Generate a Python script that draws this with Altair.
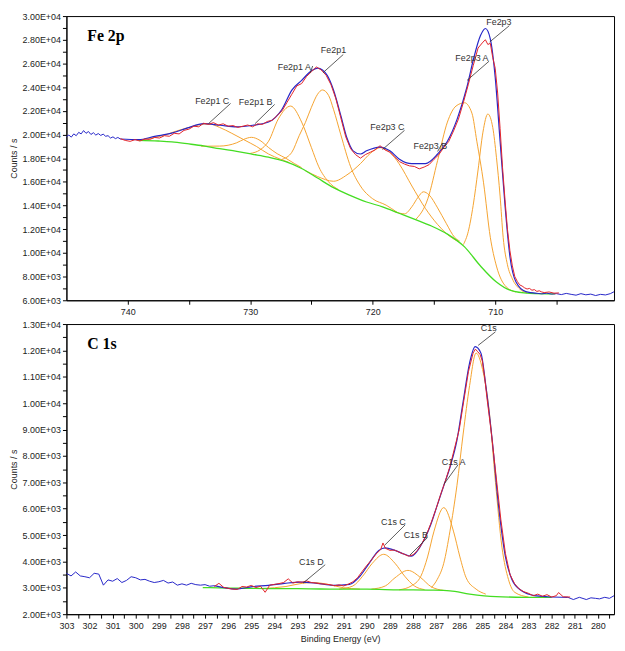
import altair as alt
import pandas as pd

# ---------------- Fe 2p panel data (binding energy eV, counts/s) ----------------
fe_raw_x = [745.0, 744.8, 744.6, 744.4, 744.2, 744.0, 743.8, 743.6, 743.4, 743.2, 743.0, 742.8,
            742.6, 742.4, 742.2, 742.0, 741.8, 741.6, 741.4, 741.2, 741.0, 740.8, 740.6]
fe_raw_y = [19830, 19950, 19780, 20050, 19900, 20180, 20050, 20330, 20100, 20250, 20000, 20150,
            19950, 20080, 19920, 20030, 19850, 19900, 19700, 19800, 19650, 19750, 19620]
fe_raw2_x = [706.6, 706.2, 705.8, 705.4, 705.0, 704.6, 704.2, 703.8, 703.4, 703.0, 702.6, 702.2,
             701.8, 701.4, 701.0, 700.6, 700.3]
fe_raw2_y = [6590, 6540, 6600, 6520, 6560, 6480, 6580, 6500, 6430, 6560, 6460, 6520,
             6400, 6500, 6450, 6560, 6720]

fe_env_x = [740.6, 739.1, 737.8, 736.4, 735.1, 733.8, 732.45, 731.1, 729.8, 728.5, 727.4, 726.6,
            725.8, 725.0, 724.5, 724.1, 723.7, 723.2, 722.6, 722.1, 721.6, 721.0, 720.5, 719.4,
            718.6, 717.85, 716.8, 715.7, 714.7, 713.9, 713.1, 712.3, 711.75, 711.2, 710.8, 710.4,
            710.0, 709.6, 709.2, 708.8, 708.3, 707.5, 706.6]
fe_env_y = [19620, 19570, 19840, 20110, 20560, 20920, 20780, 20650, 20780, 21050, 22130, 23750,
            24570, 25380, 25600, 25450, 24970, 23760, 21590, 19700, 18620, 18350, 18620, 18940,
            18620, 17940, 17540, 17540, 18350, 19430, 21320, 24030, 26460, 28350, 28950, 28080,
            24840, 19430, 14030, 9700, 7540, 6730, 6590]

fe_dat_x = [740.6, 740.2, 739.8, 739.4, 739.0, 738.6, 738.2, 737.8, 737.4, 737.0, 736.6, 736.2,
            735.8, 735.4, 735.0, 734.6, 734.2, 733.8, 733.4, 733.0, 732.6, 732.2, 731.8, 731.4,
            731.0, 730.6, 730.2, 729.8, 729.4, 729.0, 728.6, 728.2, 727.8, 727.4, 727.0, 726.6,
            726.2, 725.8, 725.4, 725.0, 724.6, 724.2, 723.8, 723.4, 723.0, 722.6, 722.2, 721.8,
            721.4, 721.0, 720.6, 720.2, 719.8, 719.4, 719.0, 718.6, 718.2, 717.8, 717.4, 717.0,
            716.6, 716.2, 715.8, 715.4, 715.0, 714.6, 714.2, 713.8, 713.4, 713.0, 712.6, 712.2,
            711.8, 711.4, 711.0, 710.8, 710.6, 710.4, 710.2, 710.0, 709.8, 709.6, 709.4, 709.2,
            709.0, 708.8, 708.6, 708.4, 708.2, 708.0, 707.8, 707.6, 707.4, 707.2, 707.0, 706.8,
            706.6, 706.4, 706.2, 706.0, 705.6, 705.2, 704.8]
fe_dat_y = [19650, 19500, 19420, 19560, 19450, 19620, 19580, 19750, 19700, 19900, 19850, 20100,
            20050, 20350, 20450, 20700, 20650, 20950, 20850, 21000, 20800, 20900, 20700, 20750,
            20600, 20700, 20800, 20650, 20900, 20850, 21100, 21200, 21600, 22000, 22700, 23400,
            24100, 24300, 24900, 25300, 25700, 25450, 25000, 24200, 23000, 21400, 19800, 18800,
            18300, 18000, 18300, 18500, 18700, 19050, 18700, 18500, 18100, 17700, 17500, 17350,
            17300, 17100, 17250, 17450, 17900, 18300, 18900, 19400, 20300, 21300, 22700, 24200,
            25800, 27300, 27800, 28000, 27600, 27700, 26500, 25600, 23500, 20500, 17200, 14500,
            12000, 10200, 8900, 8000, 7600, 7300, 7200, 7050, 6950, 7000, 6850, 6900,
            6750, 6800, 6700, 6650, 6700, 6600, 6620]

fe_bg_x = [739.1, 737.5, 736.4, 735.0, 733.8, 732.5, 731.1, 729.8, 728.5, 727.1, 725.8, 724.5,
           723.2, 721.8, 720.5, 719.2, 717.85, 716.5, 715.2, 713.9, 712.5, 711.2, 709.9, 708.8,
           707.2, 705.1]
fe_bg_y = [19510, 19450, 19380, 19200, 19030, 18800, 18570, 18330, 18080, 17700, 17130, 16320,
           15510, 14840, 14300, 13890, 13350, 12810, 12270, 11590, 10510, 8890, 7540, 6860,
           6590, 6540]

fe2p1c_x = [739.0, 738.0, 737.0, 736.0, 735.0, 734.0, 733.4, 732.5, 731.5, 730.5, 729.5, 728.5, 727.5, 726.8]
fe2p1c_y = [19520, 19700, 19950, 20300, 20600, 20850, 20900, 20600, 20100, 19550, 19000, 18350, 17900, 17620]
fe2p1b_x = [734.0, 732.5, 731.1, 730.5, 729.9, 729.2, 728.5, 727.8, 727.1, 726.4, 725.8]
fe2p1b_y = [19010, 19020, 19300, 19600, 19760, 19500, 18900, 18380, 18000, 17550, 17200]
fe2p1a_x = [730.0, 729.2, 728.5, 727.7, 726.7, 725.8, 725.0, 724.4, 723.6, 722.8]
fe2p1a_y = [18400, 18700, 19430, 21320, 22400, 21050, 18890, 17270, 16000, 15350]
fe2p1_x = [727.4, 726.6, 726.0, 725.5, 725.0, 724.5, 724.1, 723.6, 723.2, 722.6, 721.8, 721.0, 720.0, 718.9, 718.0]
fe2p1_y = [17900, 18500, 19900, 21000, 22300, 23400, 23760, 23300, 22130, 19970, 17270, 15650, 14570, 14030, 13420]
fe2p3c_x = [725.5, 724.5, 723.2, 722.1, 721.0, 720.2, 719.4, 718.6, 717.85, 716.8, 715.7, 714.7, 713.6, 713.0]
fe2p3c_y = [16950, 16450, 16050, 16590, 17540, 18400, 18890, 18500, 17540, 15650, 13760, 12400, 11320, 10950]
fe2p3b_x = [718.2, 717.4, 716.8, 716.3, 715.86, 715.4, 714.7, 714.0, 713.3, 712.9]
fe2p3b_y = [13480, 13300, 13900, 14700, 15160, 14900, 13800, 12500, 11300, 11000]
fe2p3a_x = [716.5, 715.5, 714.7, 713.9, 713.2, 712.5, 711.9, 711.5, 710.95, 710.4, 709.9, 709.1, 708.3]
fe2p3a_y = [12810, 14570, 17810, 21050, 22400, 22680, 21800, 19430, 15920, 11320, 8890, 7130, 6700]
fe2p3_x = [712.6, 712.2, 711.8, 711.4, 711.0, 710.6, 710.2, 709.9, 709.6, 709.35, 709.0, 708.6, 708.0, 707.4]
fe2p3_y = [10700, 11800, 14000, 17000, 20200, 21730, 20600, 18080, 14800, 11320, 9000, 7810, 6950, 6620]

fe_lab_text = ["Fe2p1 C", "Fe2p1 B", "Fe2p1 A", "Fe2p1", "Fe2p3 C", "Fe2p3 B", "Fe2p3 A", "Fe2p3"]
fe_lab_x = [733.1, 729.55, 726.4, 723.2, 718.8, 715.3, 711.9, 709.7]
fe_lab_y = [22784, 22702, 25702, 27162, 20594, 19054, 26432, 29513]
fe_lead_x1 = [731.6, 728.0, 724.9, 722.4, 717.4, 714.3, 710.5, 708.85]
fe_lead_y1 = [22621, 22540, 25784, 26756, 20351, 19297, 26189, 29189]
fe_lead_x2 = [733.4, 729.6, 725.1, 724.06, 719.2, 714.7, 712.3, 710.45]
fe_lead_y2 = [20919, 20919, 25216, 25216, 18730, 18568, 24567, 27811]

# ---------------- C 1s panel data ----------------
c_raw_x = [303.0, 302.8, 302.6, 302.4, 302.2, 302.0, 301.8, 301.6, 301.4, 301.2, 301.0, 300.8,
           300.6, 300.4, 300.2, 300.0, 299.8, 299.6, 299.4, 299.2, 299.0, 298.8, 298.6, 298.4,
           298.2, 298.0, 297.8, 297.6, 297.4, 297.2, 297.0, 296.8, 296.6]
c_raw_y = [3550, 3450, 3600, 3450, 3420, 3380, 3550, 3520, 3100, 3300, 3250, 3350,
           3200, 3280, 3420, 3380, 3300, 3320, 3250, 3200, 3230, 3280, 3180, 3220,
           3100, 3150, 3100, 3170, 3120, 3100, 3120, 3060, 3080]
c_raw2_x = [281.3, 281.06, 280.8, 280.5, 280.3, 280.1, 279.93, 279.7, 279.5, 279.3]
c_raw2_y = [2640, 2555, 2640, 2555, 2620, 2600, 2580, 2640, 2600, 2700]

c_env_x = [296.6, 295.66, 294.96, 294.26, 293.56, 292.85, 292.15, 291.45, 290.75, 290.3, 289.9, 289.48,
           289.2, 288.78, 288.36, 288.08, 287.66, 287.23, 286.95, 286.67, 286.39, 286.1, 285.83, 285.55,
           285.31, 285.06, 284.85, 284.57, 284.3, 284.0, 283.72, 283.3, 282.74, 282.18, 281.3]
c_env_y = [3080, 2950, 3045, 3094, 3168, 3217, 3168, 3094, 3131, 3438, 3928, 4418,
           4517, 4418, 4271, 4198, 4602, 5399, 6135, 6870, 7600, 8587, 10058, 11529,
           12142, 11897, 10671, 8587, 6135, 4173, 3315, 2886, 2702, 2660, 2640]

c_dat_x = [296.6, 296.4, 296.2, 296.0, 295.8, 295.6, 295.4, 295.2, 295.0, 294.8, 294.6, 294.4,
           294.2, 294.0, 293.8, 293.6, 293.4, 293.2, 293.0, 292.8, 292.6, 292.4, 292.2, 292.0,
           291.8, 291.6, 291.4, 291.2, 291.0, 290.8, 290.6, 290.4, 290.2, 290.0, 289.8, 289.6,
           289.4, 289.3, 289.2, 289.0, 288.8, 288.6, 288.4, 288.2, 288.0, 287.8, 287.6, 287.4,
           287.2, 287.0, 286.8, 286.6, 286.4, 286.2, 286.0, 285.8, 285.6, 285.4, 285.3, 285.2,
           285.1, 285.0, 284.9, 284.8, 284.6, 284.4, 284.2, 284.0, 283.8, 283.6, 283.4, 283.2,
           283.0, 282.8, 282.6, 282.4, 282.2, 282.0, 281.8, 281.7, 281.5, 281.2]
c_dat_y = [3050, 3170, 3020, 2980, 2950, 2940, 3050, 3030, 3090, 3010, 3060, 2830,
           3100, 3130, 3160, 3200, 3340, 3180, 3230, 3210, 3260, 3200, 3180, 3150,
           3140, 3120, 3080, 3110, 3070, 3140, 3230, 3380, 3620, 3850, 4050, 4280,
           4450, 4700, 4500, 4420, 4430, 4350, 4280, 4200, 4250, 4420, 4700, 5050,
           5500, 6000, 6550, 7050, 7600, 8300, 9000, 10100, 11200, 11900, 12050, 11950,
           11850, 11600, 11000, 10200, 8800, 7200, 5600, 4300, 3500, 3150, 2950, 2850,
           2790, 2700, 2760, 2680, 2740, 2650, 2700, 2820, 2660, 2650]

c_bg_x = [297.1, 296.0, 295.0, 294.0, 293.0, 292.0, 290.0, 288.6, 287.2, 286.4, 285.55, 284.4, 283.0, 282.0]
c_bg_y = [3010, 2990, 2980, 2970, 2965, 2955, 2947, 2923, 2910, 2886, 2763, 2665, 2640, 2635]

c1sd_x = [294.5, 293.5, 292.8, 292.3, 291.8, 291.0, 290.3]
c1sd_y = [2975, 3050, 3170, 3200, 3150, 3000, 2950]
c1sc_x = [291.2, 290.6, 290.18, 289.76, 289.27, 288.78, 288.36, 287.94, 287.5]
c1sc_y = [2950, 3070, 3440, 3930, 4270, 3930, 3440, 3070, 2930]
c1sb_x = [289.8, 289.2, 288.78, 288.22, 287.66, 287.23, 286.67]
c1sb_y = [2950, 3070, 3380, 3660, 3380, 3050, 2900]
c1sa_x = [288.6, 288.08, 287.66, 287.37, 287.09, 286.67, 286.25, 285.97, 285.7, 285.27, 284.85]
c1sa_y = [2925, 3070, 3440, 4170, 5150, 6040, 5150, 4170, 3380, 2950, 2760]
c1s_x = [287.2, 286.95, 286.67, 286.4, 286.1, 285.83, 285.55, 285.27, 284.99, 284.7, 284.43, 284.15, 283.87, 283.6, 283.0]
c1s_y = [3010, 3320, 3930, 5150, 6870, 8830, 10670, 11900, 11280, 9690, 6990, 4540, 3320, 2830, 2650]

c_lab_text = ["C1s D", "C1s C", "C1s B", "C1s A", "C1s"]
c_lab_x = [292.4, 288.85, 287.88, 286.24, 284.72]
c_lab_y = [3987, 5495, 5017, 7776, 12853]
c_lead_x1 = [291.8, 288.34, 287.37, 286.05, 284.43]
c_lead_y1 = [3876, 5385, 4906, 7666, 12706]
c_lead_x2 = [292.76, 289.23, 288.13, 286.66, 285.18]
c_lead_y2 = [3177, 4612, 4244, 6930, 12191]

# ---------------- styling ----------------
RED = "#e3232b"
BLUE = "#2626c8"
GREEN = "#44dd22"
ORANGE = "#f5a330"
FONT = "Liberation Sans"


def curves(pairs):
    frames = []
    for name, xs, ys in pairs:
        frames.append(pd.DataFrame({"x": xs, "y": ys, "curve": name}))
    return pd.concat(frames, ignore_index=True)


def panel(title, xdom, xticks, xlabel_expr, xtitle, ydom, yticks, ylabel_expr,
          comps, bg, raws, env, dat, lab, w, h):
    X = alt.X("x:Q", scale=alt.Scale(domain=xdom, reverse=True, nice=False, zero=False),
              axis=alt.Axis(values=xticks, labelExpr=xlabel_expr, title=xtitle, grid=False,
                            tickSize=4, labelFlush=False, labelPadding=3, titlePadding=5))
    Y = alt.Y("y:Q", scale=alt.Scale(domain=ydom, nice=False, zero=False),
              axis=alt.Axis(values=yticks, labelExpr=ylabel_expr, title="Counts / s", grid=False,
                            tickSize=4, labelFlush=False, labelPadding=2, titlePadding=4))
    comp_l = alt.Chart(curves(comps)).mark_line(color=ORANGE, strokeWidth=1, interpolate="monotone").encode(
        x=X, y=Y, detail="curve:N")
    bg_l = alt.Chart(curves([("bg", bg[0], bg[1])])).mark_line(color=GREEN, strokeWidth=1.3, interpolate="monotone").encode(
        x=X, y=Y)
    raw_l = alt.Chart(curves(raws)).mark_line(color=BLUE, strokeWidth=1).encode(x=X, y=Y, detail="curve:N")
    env_l = alt.Chart(curves([("env", env[0], env[1])])).mark_line(color=BLUE, strokeWidth=1.2, interpolate="monotone").encode(
        x=X, y=Y)
    dat_l = alt.Chart(curves([("dat", dat[0], dat[1])])).mark_line(color=RED, strokeWidth=1).encode(x=X, y=Y)
    lead_df = pd.DataFrame({"x": lab[3], "y": lab[4], "x2": lab[5], "y2": lab[6]})
    lead_l = alt.Chart(lead_df).mark_rule(color="#333333", strokeWidth=0.8).encode(
        x=X, y=Y, x2="x2:Q", y2="y2:Q")
    text_df = pd.DataFrame({"t": lab[0], "x": lab[1], "y": lab[2]})
    text_l = alt.Chart(text_df).mark_text(font=FONT, fontSize=9, color="#333333", align="center", baseline="middle").encode(
        x=X, y=Y, text="t:N")
    title_l = alt.Chart(pd.DataFrame({"t": [title]})).mark_text(
        font="Liberation Serif", fontWeight="bold", fontSize=16, color="black", align="left", baseline="alphabetic").encode(
        x=alt.value(21), y=alt.value(25), text="t:N")
    return alt.layer(comp_l, bg_l, raw_l, env_l, dat_l, lead_l, text_l, title_l).properties(width=w, height=h)


yfmt_top = "datum.value % 2000 == 0 ? replace(format(datum.value, '.2e'), 'e+', 'E+0') : ''"
yfmt_bot = "datum.value % 1000 == 0 ? replace(format(datum.value, '.2e'), 'e+', 'E+0') : ''"

top = panel(
    "Fe 2p", [700.3, 745.0], [705, 710, 715, 720, 725, 730, 735, 740],
    "datum.value % 10 == 0 ? format(datum.value, 'd') : ''", None,
    [6000, 30000], list(range(6000, 30001, 1000)), yfmt_top,
    [("Fe2p1 C", fe2p1c_x, fe2p1c_y), ("Fe2p1 B", fe2p1b_x, fe2p1b_y), ("Fe2p1 A", fe2p1a_x, fe2p1a_y),
     ("Fe2p1", fe2p1_x, fe2p1_y), ("Fe2p3 C", fe2p3c_x, fe2p3c_y), ("Fe2p3 B", fe2p3b_x, fe2p3b_y),
     ("Fe2p3 A", fe2p3a_x, fe2p3a_y), ("Fe2p3", fe2p3_x, fe2p3_y)],
    (fe_bg_x, fe_bg_y),
    [("raw1", fe_raw_x, fe_raw_y), ("raw2", fe_raw2_x, fe_raw2_y)],
    (fe_env_x, fe_env_y), (fe_dat_x, fe_dat_y),
    (fe_lab_text, fe_lab_x, fe_lab_y, fe_lead_x1, fe_lead_y1, fe_lead_x2, fe_lead_y2),
    553, 287)

c_ticks = [279.5 + 0.5 * i for i in range(48)]
bottom = panel(
    "C 1s", [279.3, 303.0], c_ticks,
    "datum.value % 1 == 0 ? format(datum.value, 'd') : ''", "Binding Energy (eV)",
    [2000, 13000], list(range(2000, 13001, 500)), yfmt_bot,
    [("C1s D", c1sd_x, c1sd_y), ("C1s C", c1sc_x, c1sc_y), ("C1s B", c1sb_x, c1sb_y),
     ("C1s A", c1sa_x, c1sa_y), ("C1s", c1s_x, c1s_y)],
    (c_bg_x, c_bg_y),
    [("raw1", c_raw_x, c_raw_y), ("raw2", c_raw2_x, c_raw2_y)],
    (c_env_x, c_env_y), (c_dat_x, c_dat_y),
    (c_lab_text, c_lab_x, c_lab_y, c_lead_x1, c_lead_y1, c_lead_x2, c_lead_y2),
    553, 293)

chart = alt.vconcat(top, bottom, spacing=2).resolve_scale(
    x="independent", y="independent").configure(
    padding=0, background="white").configure_view(
    stroke="black", strokeWidth=1).configure_axis(
    domainColor="black", tickColor="black", labelColor="#222222", titleColor="#222222",
    labelFont=FONT, titleFont=FONT, labelFontSize=9, titleFontSize=9, titleFontWeight="normal")

chart.save("out.html", embed_options={"renderer": "svg", "actions": False})
